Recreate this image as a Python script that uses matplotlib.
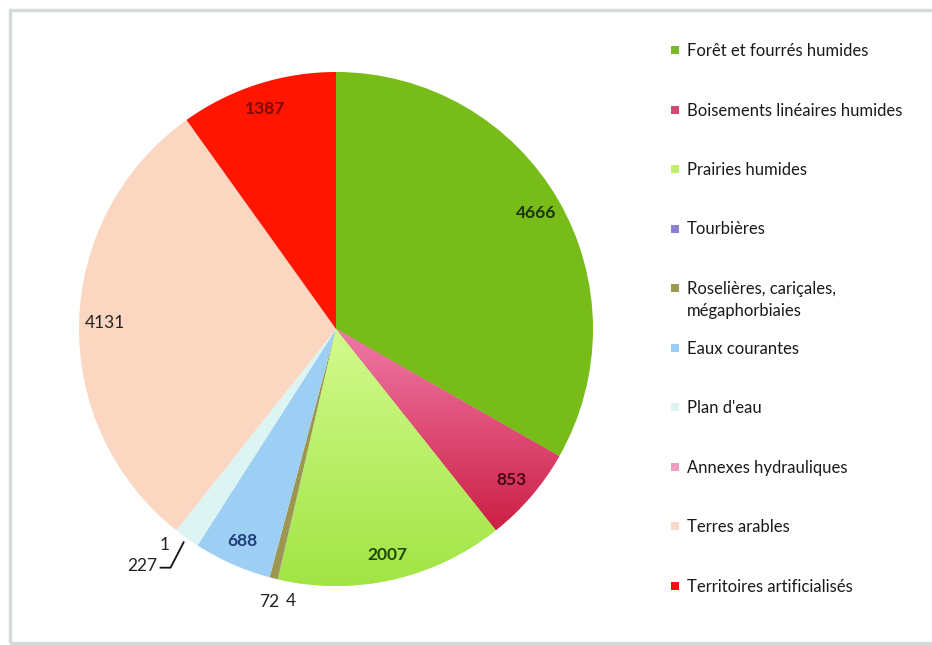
import numpy as np
import matplotlib
matplotlib.use("Agg")
import matplotlib.pyplot as plt
from matplotlib.patches import Rectangle
from matplotlib.colors import LinearSegmentedColormap

# ---------------- data ----------------
categories = [
    "Forêt et fourrés humides",
    "Boisements linéaires humides",
    "Prairies humides",
    "Tourbières",
    "Roselières, cariçales,\nmégaphorbiaies",
    "Eaux courantes",
    "Plan d'eau",
    "Annexes hydrauliques",
    "Terres arables",
    "Territoires artificialisés",
]
values = [4666, 853, 2007, 4, 72, 688, 227, 1, 4131, 1387]
value_labels = [str(v) for v in values]

# ---------------- style ----------------
colors = ["#77bc18", "#e05580", "#b8ef62", "#8a7ed8", "#9c9650",
          "#9dcff4", "#dcf4f2", "#f29cc4", "#fbd6c0", "#ff1500"]
legend_colors = ["#78b82a", "#d64a72", "#bdee70", "#8b7fd8", "#9c9a50",
                 "#9ccdf2", "#dff4f0", "#f29cc4", "#f8d8c8", "#ff0d0d"]
label_colors = ["#1c3608", "#4a0818", "#1d4a06", "#222222", "#222222",
                "#1f3f7a", "#222222", "#222222", "#222222", "#7a0a0a"]
label_bold = [True, True, True, False, False, True, False, False, False, True]
inside = [True, True, True, False, False, True, False, False, True, True]
gradients = {1: ("#f07aa8", "#cc1f45"), 2: ("#d2fa8e", "#a2e444")}

W, H = 932, 645
FONT = ["Lato", "DejaVu Sans"]
plt.rcParams["font.family"] = FONT

fig = plt.figure(figsize=(W / 100, H / 100), dpi=100)
ax = fig.add_axes([0, 0, 1, 1])
ax.set_xlim(0, W)
ax.set_ylim(0, H)
ax.set_aspect("equal")
ax.axis("off")

def fy(y):
    return H - y

# outer frame
ax.add_patch(Rectangle((10, fy(643)), W, 643 - 10, fill=False,
                       edgecolor="#d3dad8", linewidth=2.4, clip_on=False))

cx, cy, R = 336, fy(329), 257
wedges, _ = ax.pie(values, colors=colors, startangle=90, counterclock=False,
                   center=(cx, cy), radius=R, frame=True,
                   wedgeprops=dict(linewidth=0))
ax.set_xlim(0, W)
ax.set_ylim(0, H)
ax.axis("off")

# vertical gradients on some wedges
for i, (c0, c1) in gradients.items():
    w = wedges[i]
    bb = w.get_path().get_extents(w.get_patch_transform())
    cmap = LinearSegmentedColormap.from_list("g%d" % i, [c1, c0])
    grad = np.linspace(0, 1, 256).reshape(-1, 1)
    im = ax.imshow(grad, cmap=cmap, aspect="auto", origin="lower",
                   extent=[bb.x0, bb.x1, bb.y0, bb.y1], zorder=w.get_zorder() + 0.1)
    im.set_clip_path(w)
ax.set_xlim(0, W)
ax.set_ylim(0, H)

def polar(theta_deg, r):
    t = np.deg2rad(theta_deg)
    return cx + r * np.cos(t), cy + r * np.sin(t)

LS = 12.5
# inside labels
for i, w in enumerate(wedges):
    if not inside[i]:
        continue
    tm = (w.theta1 + w.theta2) / 2
    x, y = polar(tm, 0.9 * R)
    ax.text(x, y, value_labels[i], ha="center", va="center", fontsize=LS,
            fontweight="bold" if label_bold[i] else "normal",
            color=label_colors[i], zorder=5)

# outside labels: Tourbières (3) and Roselières (4) side by side
t34 = (wedges[3].theta1 + wedges[4].theta2) / 2
x, y = polar(t34, 1.09 * R)
ax.text(x + 7, y, value_labels[4], ha="right", va="center", fontsize=LS, color="#222222")
ax.text(x + 13, y + 1, value_labels[3], ha="left", va="center", fontsize=LS, color="#222222")

# Annexes (7)
tm = (wedges[7].theta1 + wedges[7].theta2) / 2
x, y = polar(tm, 1.075 * R)
ax.text(x, y, value_labels[7], ha="center", va="center", fontsize=LS, color="#222222")

# Plan d'eau (6) with leader line
tm = (wedges[6].theta1 + wedges[6].theta2) / 2
x0, y0 = polar(tm, 1.02 * R)
x1, y1 = polar(tm + 0.8, 1.13 * R)
ax.plot([x0, x1, x1 - 10], [y0, y1, y1], color="#111111", lw=1.3, zorder=5)
ax.text(x1 - 13, y1 + 2, value_labels[6], ha="right", va="center", fontsize=LS, color="#222222")

# legend
leg_x, leg_y0, leg_dy = 675, 52, 59.5
for i, name in enumerate(categories):
    y = leg_y0 + i * leg_dy
    ax.add_patch(Rectangle((leg_x - 4, fy(y) - 2), 8, 8, facecolor=legend_colors[i],
                           edgecolor="none"))
    ax.text(leg_x + 12, fy(y) + 9, name, ha="left", va="top", fontsize=12,
            color="#1a1a1a", linespacing=1.45)

fig.savefig("out.png", dpi=100)
